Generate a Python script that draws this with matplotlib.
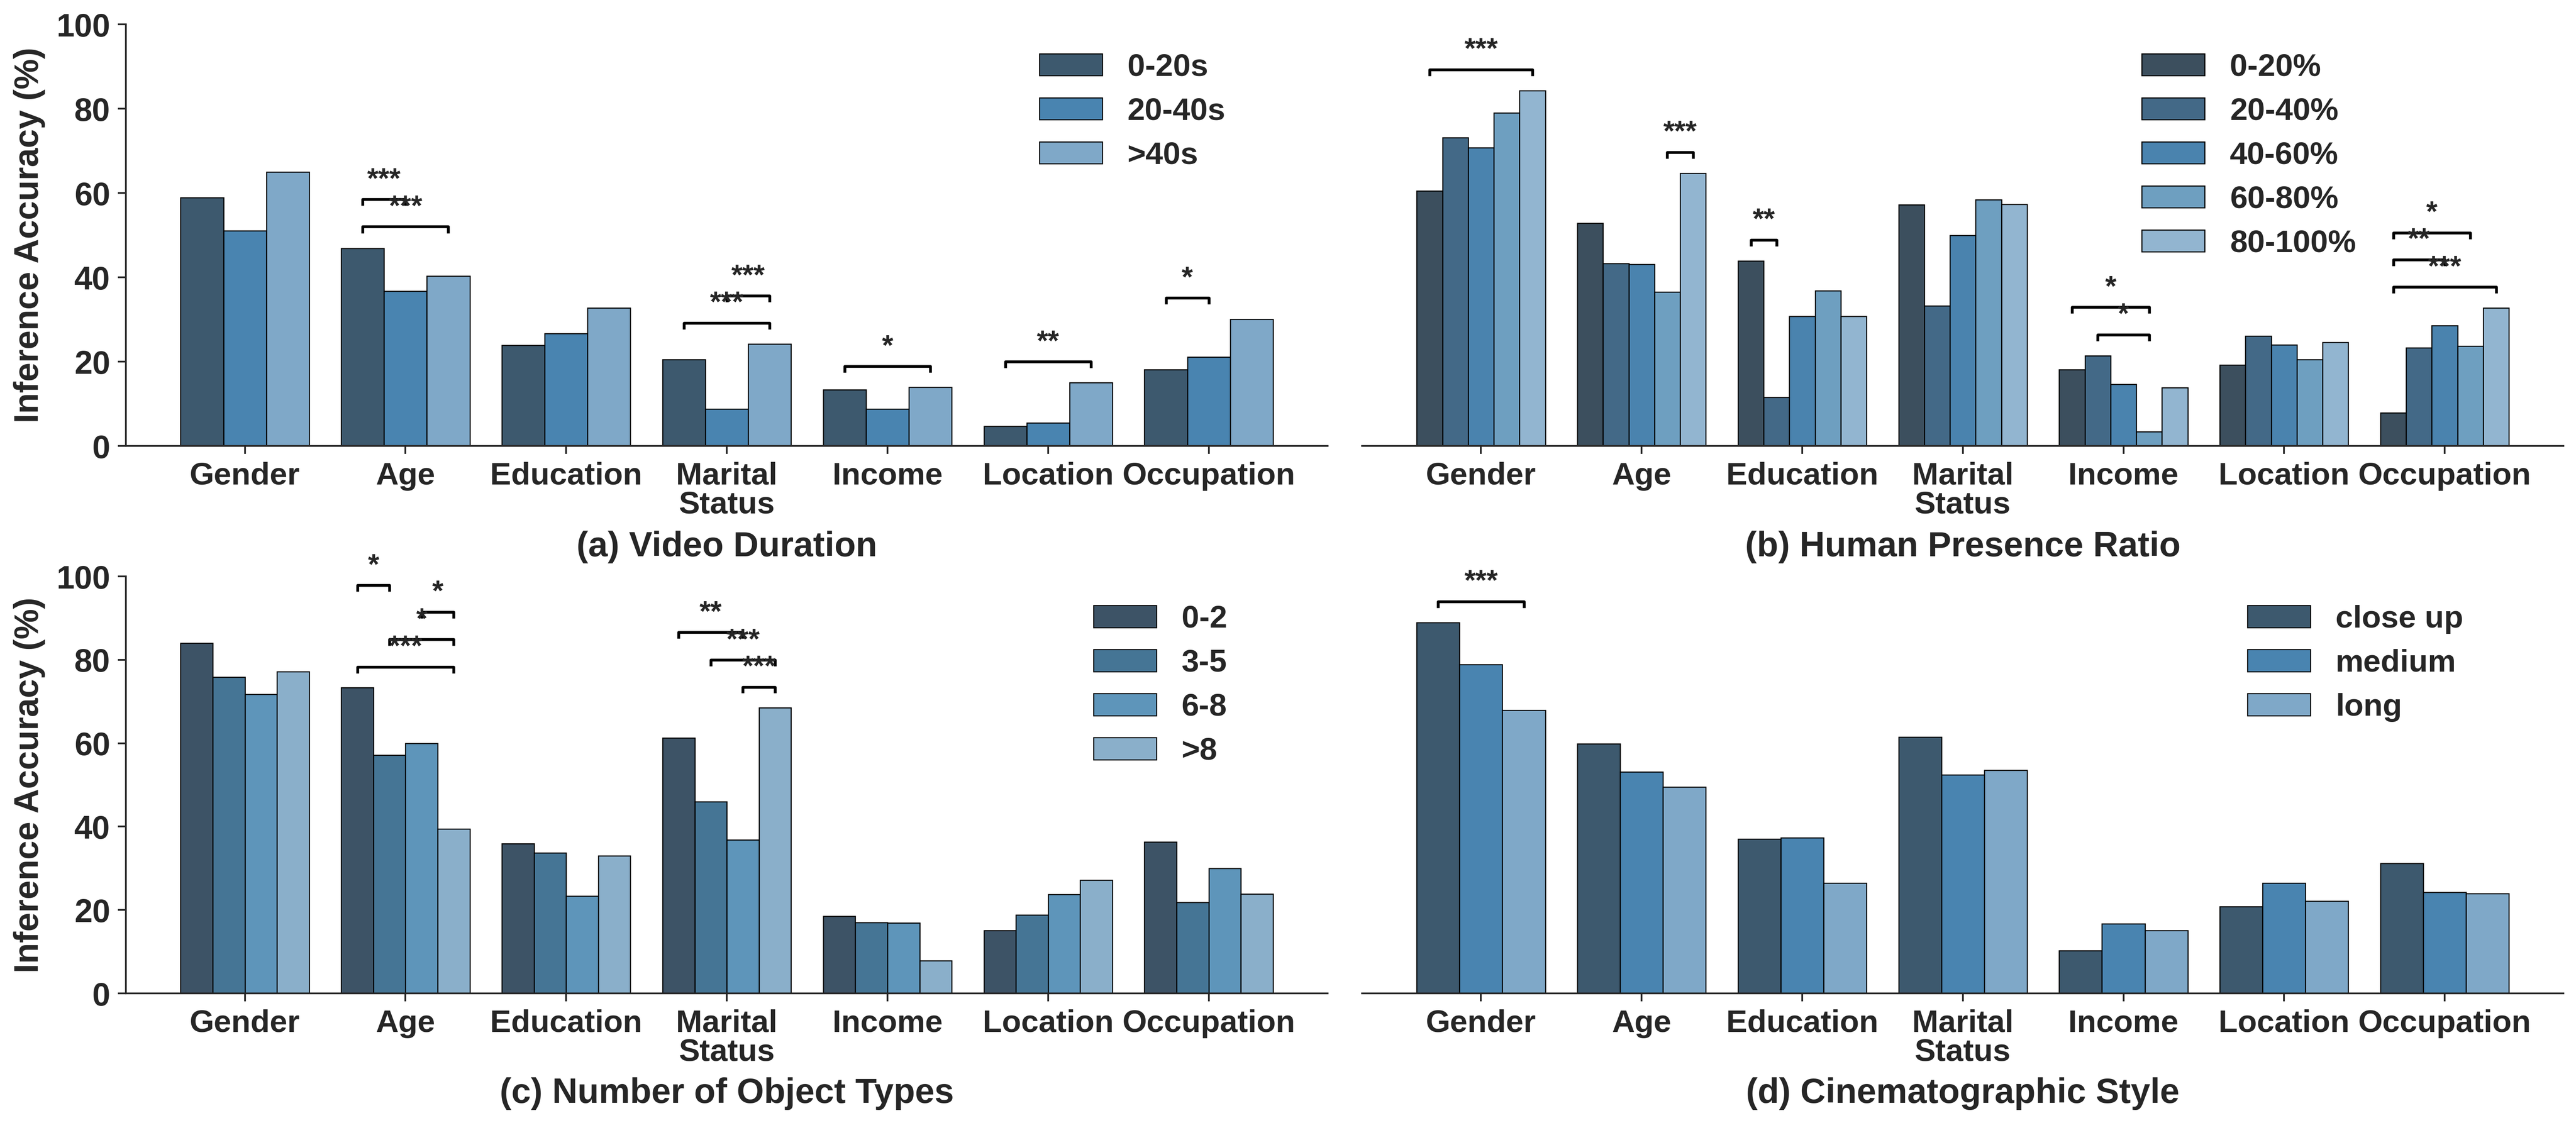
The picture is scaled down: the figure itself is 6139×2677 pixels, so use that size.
import matplotlib
matplotlib.use("Agg")
import matplotlib.pyplot as plt
import numpy as np

plt.rcParams['font.family'] = ['Liberation Sans', 'DejaVu Sans']
plt.rcParams['font.weight'] = 'bold'
plt.rcParams['text.color'] = '#262626'
plt.rcParams['axes.labelcolor'] = '#262626'
plt.rcParams['xtick.color'] = '#262626'
plt.rcParams['ytick.color'] = '#262626'

categories = ['Gender', 'Age', 'Education', 'Marital\nStatus', 'Income', 'Location', 'Occupation']

# (a) video duration
dur_labels = ['0-20s', '20-40s', '>40s']
dur_0_20 = [58.9, 46.9, 23.9, 20.5, 13.3, 4.7, 18.1]
dur_20_40 = [51.1, 36.7, 26.7, 8.8, 8.8, 5.5, 21.1]
dur_40 = [65.0, 40.3, 32.7, 24.2, 13.9, 15.0, 30.1]
dur_sig = [(1, 0, 1, 58.5, '***'), (1, 0, 2, 52.0, '***'), (3, 1, 2, 35.6, '***'),
           (3, 0, 2, 29.2, '***'), (4, 0, 2, 18.9, '*'), (5, 0, 2, 20.0, '**'),
           (6, 0, 1, 35.1, '*')]

# (b) human presence ratio
hum_labels = ['0-20%', '20-40%', '40-60%', '60-80%', '80-100%']
hum_0_20 = [60.5, 52.8, 43.9, 57.2, 18.1, 19.2, 7.9]
hum_20_40 = [73.1, 43.3, 11.5, 33.2, 21.4, 26.1, 23.3]
hum_40_60 = [70.8, 43.1, 30.8, 50.0, 14.6, 24.0, 28.6]
hum_60_80 = [79.0, 36.5, 36.8, 58.4, 3.4, 20.5, 23.7]
hum_80_100 = [84.3, 64.7, 30.8, 57.3, 13.8, 24.6, 32.7]
hum_sig = [(0, 0, 4, 89.3, '***'), (1, 3, 4, 69.7, '***'), (2, 0, 1, 48.9, '**'),
           (4, 0, 3, 32.9, '*'), (4, 1, 3, 26.4, '*'), (6, 0, 3, 50.6, '*'),
           (6, 0, 2, 44.2, '**'), (6, 0, 4, 37.7, '***')]

# (c) number of object types
obj_labels = ['0-2', '3-5', '6-8', '>8']
obj_0_2 = [84.0, 73.4, 35.9, 61.3, 18.5, 15.1, 36.3]
obj_3_5 = [75.9, 57.2, 33.7, 46.0, 17.0, 18.8, 21.8]
obj_6_8 = [71.7, 60.0, 23.3, 36.8, 16.9, 23.8, 30.0]
obj_8 = [77.2, 39.4, 33.0, 68.5, 7.9, 27.2, 23.9]
obj_sig = [(1, 0, 1, 97.9, '*'), (1, 2, 3, 91.5, '*'), (1, 1, 3, 84.9, '*'),
           (1, 0, 3, 78.3, '***'), (3, 0, 2, 86.6, '**'), (3, 1, 3, 80.0, '***'),
           (3, 2, 3, 73.5, '***')]

# (d) cinematographic style
cin_labels = ['close up', 'medium', 'long']
cin_close = [88.9, 59.9, 37.0, 61.5, 10.3, 20.8, 31.2]
cin_medium = [78.9, 53.1, 37.3, 52.4, 16.7, 26.5, 24.3]
cin_long = [67.9, 49.5, 26.5, 53.5, 15.1, 22.1, 24.0]
cin_sig = [(0, 0, 2, 94.0, '***')]

pal3 = ['#3d596e', '#4984b0', '#7fa8c8']
pal4 = ['#3d5366', '#457595', '#5e95ba', '#8aafca']
pal5 = ['#3c4f5e', '#436987', '#4a83ae', '#6e9fc0', '#92b5d0']


def bar_x(i, k, n, width=0.8):
    return i - width / 2 + (k + 0.5) * width / n


def panel(ax, series, labels, colors, sig, title, leg_pos, show_y):
    n = len(series)
    x = np.arange(len(categories))
    for k, (vals, lab) in enumerate(zip(series, labels)):
        ax.bar(bar_x(x, k, n), vals, 0.8 / n, color=colors[k], edgecolor='black',
               linewidth=0.6, label=lab)
    for (i, a, b, y, txt) in sig:
        x1, x2 = bar_x(i, a, n), bar_x(i, b, n)
        ax.plot([x1, x1, x2, x2], [y - 1.5, y, y, y - 1.5], color='black', lw=1.6,
                solid_capstyle='butt', clip_on=False)
        ax.text((x1 + x2) / 2, y + 1.4, txt, ha='center', va='bottom', fontsize=16.5,
                fontweight='bold', clip_on=False)
    ax.set_xlim(-0.74, 6.74)
    ax.set_ylim(0, 100)
    ax.set_xticks(x)
    ax.set_xticklabels(categories, fontsize=18, fontweight='bold', linespacing=1.0)
    ax.tick_params(axis='both', length=4.5, width=1.0, pad=4.5)
    for s in ['top', 'right']:
        ax.spines[s].set_visible(False)
    ax.spines['bottom'].set_linewidth(1.0)
    ax.spines['bottom'].set_color('#262626')
    if show_y:
        ax.spines['left'].set_linewidth(1.0)
        ax.spines['left'].set_color('#262626')
        ax.set_yticks([0, 20, 40, 60, 80, 100])
        ax.set_yticklabels(['0', '20', '40', '60', '80', '100'], fontsize=18.5, fontweight='bold')
        ax.set_ylabel('Inference Accuracy (%)', fontsize=19.5, fontweight='bold')
        ax.yaxis.set_label_coords(-0.067, 0.5)
    else:
        ax.spines['left'].set_visible(False)
        ax.set_yticks([])
    ax.text(0.5, -0.24, title, transform=ax.transAxes, ha='center', va='center',
            fontsize=20, fontweight='bold')
    ax.legend(loc='upper left', bbox_to_anchor=leg_pos, frameon=False, fontsize=18,
              handlelength=2.0, handleheight=0.7, handletextpad=0.8, labelspacing=0.48,
              borderpad=0, borderaxespad=0)


fig = plt.figure(figsize=(6140 / 300, 2677 / 300), dpi=300)
ax_a = fig.add_axes([0.0489, 0.6029, 0.4664, 0.3754])
ax_b = fig.add_axes([0.5287, 0.6029, 0.4663, 0.3754])
ax_c = fig.add_axes([0.0489, 0.1154, 0.4664, 0.3713])
ax_d = fig.add_axes([0.5287, 0.1154, 0.4663, 0.3713])

panel(ax_a, [dur_0_20, dur_20_40, dur_40], dur_labels, pal3, dur_sig,
      '(a) Video Duration', (0.760, 0.932), True)
panel(ax_b, [hum_0_20, hum_20_40, hum_40_60, hum_60_80, hum_80_100], hum_labels, pal5, hum_sig,
      '(b) Human Presence Ratio', (0.649, 0.932), False)
panel(ax_c, [obj_0_2, obj_3_5, obj_6_8, obj_8], obj_labels, pal4, obj_sig,
      '(c) Number of Object Types', (0.805, 0.932), True)
panel(ax_d, [cin_close, cin_medium, cin_long], cin_labels, pal3, cin_sig,
      '(d) Cinematographic Style', (0.737, 0.932), False)

fig.savefig('out.png', dpi=300)
